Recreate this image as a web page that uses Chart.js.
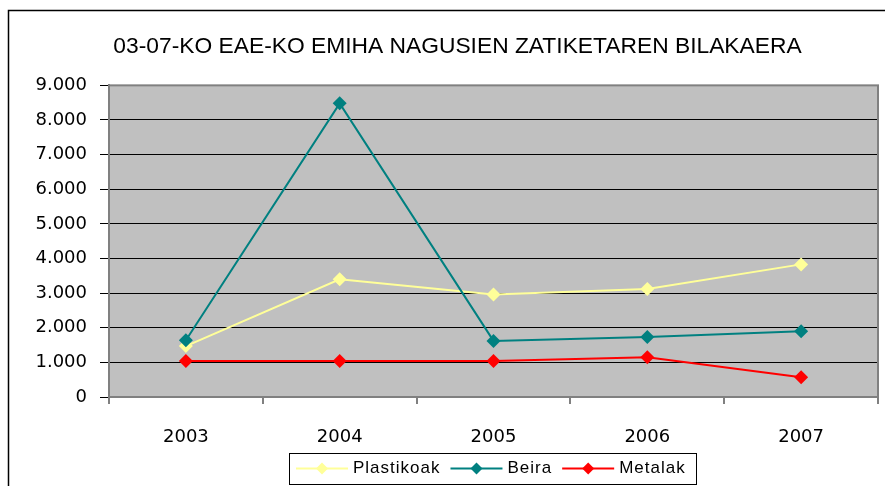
<!DOCTYPE html>
<html>
<head>
<meta charset="utf-8">
<script src="https://cdn.jsdelivr.net/npm/chart.js@4.4.0/dist/chart.umd.min.js"></script>
<style>
html, body { margin: 0; padding: 0; background: #fff; }
</style>
</head>
<body>
<canvas id="chart" width="885" height="486"></canvas>
<script>
const years = ['2003', '2004', '2005', '2006', '2007'];
const plastikoak = [1470, 3400, 2960, 3120, 3830];
const beira = [1640, 8480, 1620, 1730, 1900];
const metalak = [1040, 1040, 1040, 1150, 570];
const seriesNames = ['Plastikoak', 'Beira', 'Metalak'];
const seriesColors = ['#FFFF99', '#008080', '#FF0000'];
const titleText = '03-07-KO EAE-KO EMIHA NAGUSIEN ZATIKETAREN BILAKAERA';

function fmt(v) {
    return String(v).replace(/\B(?=(\d{3})+(?!\d))/g, '.');
}

// gray plot background, plot border and the outer frame
const framePlugin = {
    id: 'frame',
    beforeDraw: function(chart) {
        const ctx = chart.ctx;
        const a = chart.chartArea;
        ctx.save();
        ctx.fillStyle = '#fff';
        ctx.fillRect(0, 0, chart.width, chart.height);
        ctx.fillStyle = '#C0C0C0';
        ctx.fillRect(a.left, a.top, a.right - a.left, a.bottom - a.top);
        ctx.restore();
    },
    beforeDatasetsDraw: function(chart) {
        const ctx = chart.ctx;
        const a = chart.chartArea;
        ctx.save();
        ctx.strokeStyle = '#808080';
        ctx.lineWidth = 2;
        ctx.strokeRect(a.left, a.top, a.right - a.left, a.bottom - a.top);
        ctx.restore();
    },
    afterDraw: function(chart) {
        const ctx = chart.ctx;
        ctx.save();
        ctx.strokeStyle = '#000';
        ctx.lineWidth = 1.5;
        ctx.strokeRect(8.5, 10.5, 1000, 1000);
        ctx.restore();
    }
};

// boxed legend with line + diamond samples
const legendBox = {
    id: 'legendBox',
    afterDraw: function(chart) {
        const ctx = chart.ctx;
        const top = 453, bottom = 484, left = 289, right = 696;
        const midY = 468.5;
        ctx.save();
        ctx.strokeStyle = '#000';
        ctx.lineWidth = 1;
        ctx.strokeRect(left + 0.5, top + 0.5, right - left, bottom - top);
        ctx.font = '17px "Liberation Sans", Arial, sans-serif';
        ctx.letterSpacing = '1px';
        ctx.textBaseline = 'middle';
        ctx.fillStyle = '#000';
        let x = 296;
        chart.data.datasets.forEach(function(ds) {
            ctx.strokeStyle = ds.borderColor;
            ctx.lineWidth = 2;
            ctx.beginPath();
            ctx.moveTo(x, midY);
            ctx.lineTo(x + 52, midY);
            ctx.stroke();
            const cx = x + 26;
            ctx.fillStyle = ds.borderColor;
            ctx.beginPath();
            ctx.moveTo(cx, midY - 6);
            ctx.lineTo(cx + 6, midY);
            ctx.lineTo(cx, midY + 6);
            ctx.lineTo(cx - 6, midY);
            ctx.closePath();
            ctx.fill();
            ctx.fillStyle = '#000';
            ctx.fillText(ds.label, x + 57, midY);
            x = x + 57 + ctx.measureText(ds.label).width + 10;
        });
        ctx.restore();
    }
};

function makeSet(i, data, order) {
    return {
        label: seriesNames[i],
        data: data,
        borderColor: seriesColors[i],
        backgroundColor: seriesColors[i],
        pointBackgroundColor: seriesColors[i],
        pointBorderWidth: 0,
        pointStyle: 'rectRot',
        pointRadius: 7,
        borderWidth: 2,
        tension: 0,
        order: order
    };
}

const ctx = document.getElementById('chart').getContext('2d');
new Chart(ctx, {
    type: 'line',
    data: {
        labels: years,
        datasets: [
            makeSet(0, plastikoak, 3),
            makeSet(1, beira, 2),
            makeSet(2, metalak, 1)
        ]
    },
    plugins: [framePlugin, legendBox],
    options: {
        responsive: false,
        animation: false,
        layout: { padding: { left: 33, right: 3, top: 0, bottom: 0 } },
        plugins: {
            legend: { display: false },
            tooltip: { enabled: false },
            title: {
                display: true,
                text: titleText,
                color: '#000',
                font: { family: '"Liberation Sans", Arial, sans-serif', size: 22.8, weight: 'normal' },
                padding: { top: 33, bottom: 25 }
            }
        },
        scales: {
            x: {
                offset: true,
                grid: {
                    offset: true,
                    drawOnChartArea: false,
                    tickLength: 7,
                    tickColor: '#808080',
                    lineWidth: 2
                },
                border: { color: '#808080', width: 2 },
                ticks: {
                    color: '#000',
                    padding: 23,
                    font: { family: '"DejaVu Sans", sans-serif', size: 18 }
                },
                afterFit: function(scale) { scale.height = 89; }
            },
            y: {
                min: 0,
                max: 9000,
                grid: {
                    color: '#000',
                    lineWidth: 1,
                    tickLength: 9,
                    tickColor: '#000'
                },
                border: { color: '#808080', width: 2 },
                ticks: {
                    stepSize: 1000,
                    color: '#000',
                    padding: 13,
                    font: { family: '"DejaVu Sans", sans-serif', size: 18 },
                    callback: function(v) { return fmt(v); }
                },
                afterFit: function(scale) { scale.width = 76; }
            }
        }
    }
});
</script>
</body>
</html>
